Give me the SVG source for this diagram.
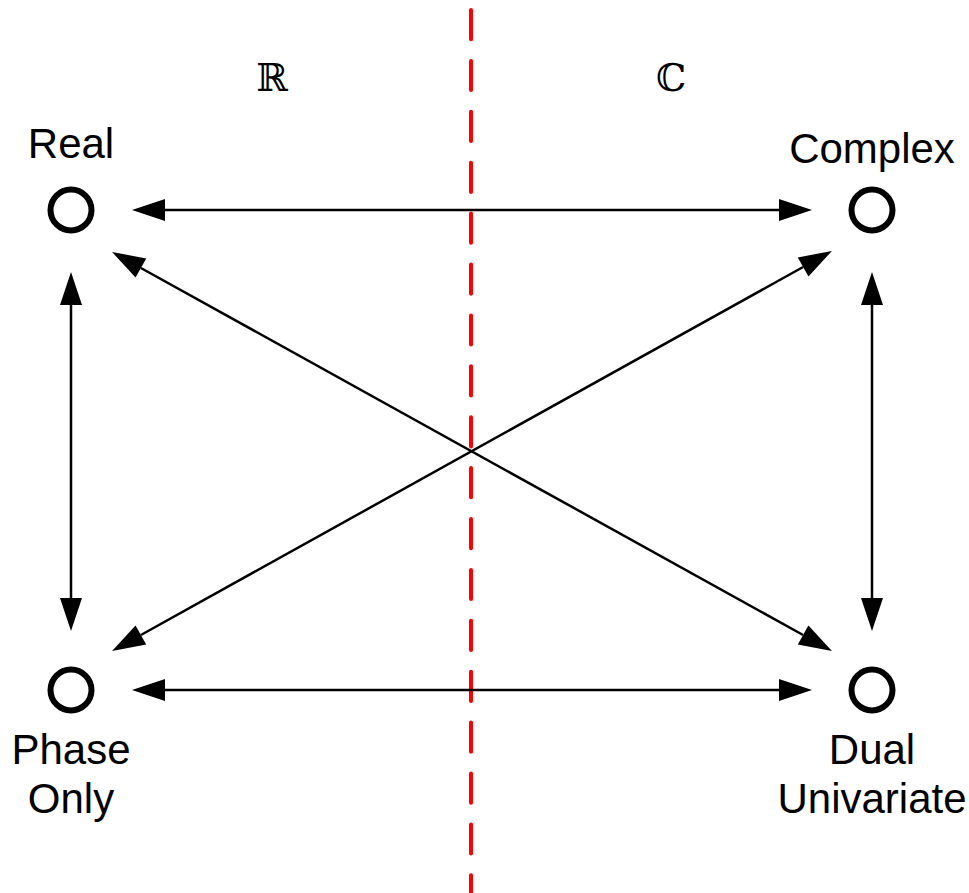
<svg xmlns="http://www.w3.org/2000/svg" width="969" height="893" viewBox="0 0 969 893">
  <style>
    .label { font-family: "Liberation Sans", Arial, sans-serif; font-size: 42px; fill: #000; text-anchor: middle; }
    .set { font-family: "DejaVu Serif", "Liberation Serif", serif; font-size: 38px; fill: #000; text-anchor: middle; }
    .node { fill: none; stroke: #000; stroke-width: 6; }
    .conn { stroke: #000; stroke-width: 2.5; fill: none; marker-start: url(#head); marker-end: url(#head); }
    .divider { stroke: #ff0000; stroke-width: 4; stroke-linecap: round; stroke-dasharray: 29.2 21.7; fill: none; }
  </style>
  <defs>
    <!-- filled arrowhead, anchored at its base so the line stops where the head begins -->
    <marker id="head" markerUnits="userSpaceOnUse" markerWidth="34" markerHeight="24" viewBox="0 0 34 24" refX="0" refY="11" orient="auto-start-reverse" overflow="visible">
      <path d="M0,0 L33,11 L0,22 Z" fill="#000"/>
    </marker>
  </defs>

  <rect width="969" height="893" fill="#fff"/>

  <!-- dashed boundary between the real and complex halves -->
  <line class="divider" x1="471" y1="10" x2="471" y2="893"/>

  <text class="set" x="272" y="91">ℝ</text>
  <text class="set" x="671" y="91">ℂ</text>

  <g id="connectors">
    <line class="conn" x1="165" y1="210" x2="779" y2="210"/>
    <line class="conn" x1="165" y1="690" x2="779" y2="690"/>
    <line class="conn" x1="71" y1="305" x2="71" y2="598"/>
    <line class="conn" x1="872" y1="305" x2="872" y2="598"/>
    <line class="conn" x1="140.9" y1="268" x2="803.1" y2="635"/>
    <line class="conn" x1="140.9" y1="635" x2="803.1" y2="267"/>
  </g>

  <g id="real">
    <circle class="node" cx="71" cy="210" r="20.5"/>
    <text class="label" x="71" y="158">Real</text>
  </g>

  <g id="complex">
    <circle class="node" cx="872" cy="210" r="20.5"/>
    <text class="label" x="872" y="163">Complex</text>
  </g>

  <g id="phase-only">
    <circle class="node" cx="71" cy="690" r="20.5"/>
    <text class="label" x="71" y="764">Phase</text>
    <text class="label" x="71" y="813">Only</text>
  </g>

  <g id="dual-univariate">
    <circle class="node" cx="872" cy="690" r="20.5"/>
    <text class="label" x="872" y="764">Dual</text>
    <text class="label" x="872" y="813">Univariate</text>
  </g>
</svg>
